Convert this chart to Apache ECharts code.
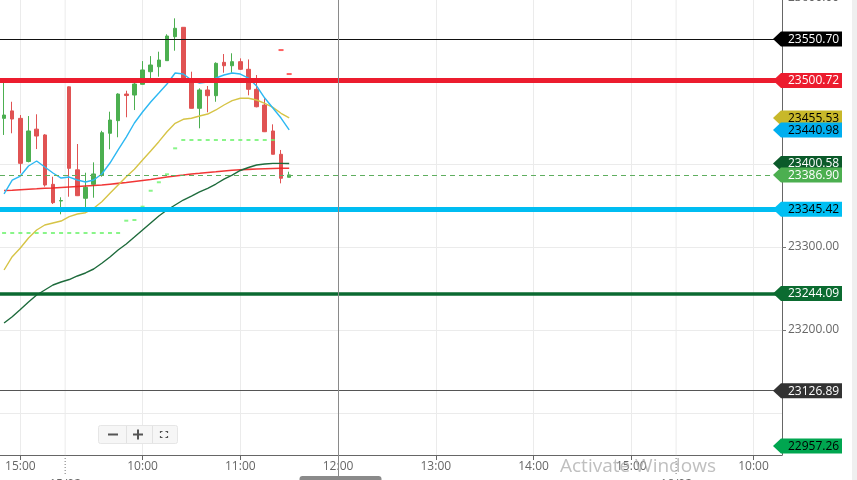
<!DOCTYPE html>
<html><head><meta charset="utf-8">
<script src="https://cdn.jsdelivr.net/npm/echarts@6/dist/echarts.min.js"></script>
<style>html,body{margin:0;padding:0;background:#fff;overflow:hidden}#c{width:857px;height:480px}</style>
</head><body><div id="c"></div>
<script>
// ---------- DATA ----------
const dayDates = ['14/02', '15/02', '16/02'];
const sessionRanges = [['14:50', '15:25'], ['09:15', '15:25'], ['09:15', '10:15']];

const xTickCats = ['14/02 15:00', '15/02 10:00', '15/02 11:00', '15/02 12:00', '15/02 13:00', '15/02 14:00', '15/02 15:00', '16/02 10:00'];
const xTickLabels = ['15:00', '10:00', '11:00', '12:00', '13:00', '14:00', '15:00', '10:00'];
const dayLabels = ['15/02', '16/02'];
const crossCat = '15/02 12:00';

const yTickValues = [23100, 23200, 23300, 23400, 23500];
const yTopTick = 23600;
const yMin = 23049.4, yMax = 23597.6;

const opens  = [23455, 23464, 23455, 23403, 23442, 23435, 23375.5, 23355.4, 23493, 23393, 23358.7, 23375.5, 23386.7, 23437, 23452.2, 23484.3, 23483.1, 23496, 23511.2, 23517.2, 23524.5, 23553.4, 23564.7, 23497.6, 23467.1, 23489.2, 23482.3, 23522.5, 23518.4, 23523.3, 23514.1, 23490, 23471, 23439.8, 23411.7, 23384];
const closes = [23459, 23454.2, 23400.8, 23439.8, 23433.7, 23374.7, 23353.4, 23356, 23394.8, 23361.8, 23371.9, 23388, 23437.7, 23453, 23484.3, 23482.5, 23496.4, 23513.3, 23519.3, 23525.3, 23554.2, 23563.5, 23500, 23467.1, 23489.2, 23482.3, 23521.3, 23518.4, 23523.3, 23514.1, 23490, 23469, 23438.9, 23411.7, 23382.8, 23386.9];
const highs  = [23498, 23475, 23459, 23457.8, 23459.9, 23436, 23384.7, 23359.9, 23493.5, 23424.1, 23389.5, 23402, 23440, 23463, 23485.2, 23488.3, 23497.6, 23524, 23530, 23535.3, 23556.3, 23575.5, 23565, 23511.2, 23491.2, 23494, 23522.5, 23532.5, 23533.4, 23527.3, 23526, 23507.2, 23479.2, 23447.8, 23416.9, 23390.7];
const lows   = [23435, 23437, 23388.8, 23402, 23418, 23372.7, 23351.8, 23339.4, 23360.6, 23361.4, 23346.6, 23359.4, 23384.7, 23417.7, 23432.2, 23456.3, 23465, 23495.8, 23503.6, 23505.2, 23524.5, 23536.5, 23499, 23467, 23443, 23462.3, 23475, 23510, 23510, 23513.3, 23482.8, 23468.3, 23438.5, 23411.7, 23376.7, 23384];

const maBlue   = [23363.9, 23380.7, 23385.5, 23397.6, 23403.6, 23396.4, 23389.2, 23383.1, 23384.3, 23380.7, 23378.3, 23380.7, 23388, 23401.2, 23416.9, 23432.5, 23449.4, 23462.7, 23474.7, 23485.5, 23496.4, 23509.6, 23508.4, 23501.2, 23497.6, 23498.8, 23503.6, 23507.2, 23509.6, 23508.4, 23503.6, 23494, 23479.5, 23467.5, 23455.4, 23441];
const maYellow = [23272.3, 23288.3, 23298.8, 23310.8, 23320.5, 23326.5, 23328.9, 23331.3, 23336.5, 23339.8, 23341.3, 23346.6, 23354.6, 23364.7, 23374.7, 23384.7, 23393.6, 23404.8, 23415.7, 23426.9, 23438.9, 23449, 23453.9, 23455.1, 23457.8, 23460.2, 23465.1, 23471.1, 23476.3, 23479.2, 23479.2, 23477.1, 23473.1, 23468.3, 23461.1, 23455.5];
const maGreen  = [23208.4, 23216, 23224.7, 23233.7, 23242.2, 23248.2, 23254.2, 23257.8, 23260.8, 23265.1, 23268.7, 23273.5, 23280.4, 23288, 23296.4, 23303.6, 23312, 23320.5, 23328.9, 23337.3, 23344.6, 23350.6, 23356.6, 23361.4, 23366.3, 23370.7, 23375.9, 23381.9, 23386.7, 23392.2, 23395.8, 23398.8, 23400, 23400.8, 23400.8, 23400.6];
const maRed    = [23368.1, 23368.4, 23369, 23369.6, 23370.1, 23370.7, 23371.1, 23371.7, 23372.3, 23372.9, 23373.5, 23374.1, 23374.7, 23375.7, 23376.7, 23377.7, 23378.9, 23380.1, 23381.3, 23382.8, 23384.3, 23385.5, 23386.7, 23388, 23388.8, 23389.8, 23390.6, 23391.6, 23392.4, 23393, 23393.5, 23394, 23394.3, 23394.6, 23394.8, 23394.8];
const trendUp   = [23316.9, 23316.9, 23316.9, 23316.9, 23316.9, 23316.9, 23316.9, 23316.9, 23316.9, 23316.9, 23316.9, 23316.9, 23316.9, 23316.9, 23316.9, 23331.7, 23332.5, 23348.6, 23367.8, 23378, 23387.6, 23418.9, 23428.9, 23428.9, 23428.9, 23428.9, 23428.9, 23428.9, 23428.9, 23428.9, 23428.9, 23428.9, 23428.9, 23428.9, null, null];
const trendDown = [null, null, null, null, null, null, null, null, null, null, null, null, null, null, null, null, null, null, null, null, null, null, null, null, null, null, null, null, null, null, null, null, null, null, 23537.3, 23508.4];

const lineLevels = [23550.70, 23500.72, 23386.90, 23345.42, 23244.09, 23126.89];
const tagValues  = [23550.70, 23500.72, 23455.53, 23440.98, 23400.58, 23386.90, 23345.42, 23244.09, 23126.89, 22957.26];

// ---------- STYLES ----------
const lineLevelStyles = [
  {color: '#111', width: 1, type: 'solid'},
  {color: '#ec1c2e', width: 5, type: 'solid'},
  {color: '#5fae5f', width: 1, type: [5, 4]},
  {color: '#00bdf2', width: 5, type: 'solid'},
  {color: '#0b6a31', width: 3.5, type: 'solid'},
  {color: '#555', width: 1, type: 'solid'}
];
const tagBg = ['#000000', '#ec1c2e', '#c8b82a', '#00aeef', '#0b5a2a', '#4caf50', '#00bff3', '#0b6b30', '#333333', '#00a650'];
const tagFg = ['#fff', '#fff', '#000', '#000', '#fff', '#fff', '#000', '#fff', '#fff', '#000'];
const FONT = '"Open Sans", "Noto Sans", sans-serif';

// ---------- BUILD ----------
function toMin(s) { const p = s.split(':'); return +p[0] * 60 + +p[1]; }
function fmt(m) { const h = Math.floor(m / 60), mm = m % 60; return (h < 10 ? '0' : '') + h + ':' + (mm < 10 ? '0' : '') + mm; }
const categories = [];
dayDates.forEach((d, k) => {
  for (let m = toMin(sessionRanges[k][0]); m <= toMin(sessionRanges[k][1]); m += 5) categories.push(d + ' ' + fmt(m).replace(/^0/, ''));
});
const fixCat = c => c; // names like '15/02 9:15'
const tickIdx = new Set(xTickCats.map(c => categories.indexOf(c)));
const tickLabelByIdx = {};
xTickCats.forEach((c, i) => { tickLabelByIdx[categories.indexOf(c)] = xTickLabels[i]; });

const candleData = opens.map((o, i) => [o, closes[i], lows[i], highs[i]]);

const gridMarks = [];
tickIdx.forEach(i => { if (categories[i] !== crossCat) gridMarks.push({xAxis: i}); });
yTickValues.forEach(v => gridMarks.push({yAxis: v}));

const levelMarks = lineLevels.map((v, i) => ({yAxis: v, lineStyle: lineLevelStyles[i]}));

const chart = echarts.init(document.getElementById('c'));
chart.setOption({
  animation: false,
  backgroundColor: '#ffffff',
  grid: {left: -2, right: 75, top: 0, bottom: 25},
  xAxis: {
    type: 'category', data: categories, boundaryGap: true,
    axisLine: {lineStyle: {color: '#666'}},
    axisTick: {show: true, alignWithLabel: true, length: 5, interval: i => tickIdx.has(i), lineStyle: {color: '#666'}},
    axisLabel: {interval: i => tickIdx.has(i), formatter: (v, i) => tickLabelByIdx[i] || '', color: '#666', fontSize: 12, fontFamily: FONT, margin: 6},
    splitLine: {show: false}
  },
  yAxis: {
    type: 'value', position: 'right', min: yMin, max: yMax, minInterval: 100, maxInterval: 100,
    axisLine: {show: true, lineStyle: {color: '#666'}},
    axisTick: {show: true, length: 4, lineStyle: {color: '#777'}, customValues: yTickValues},
    axisLabel: {formatter: v => v.toFixed(2), color: '#666', fontSize: 12, fontFamily: FONT, margin: 6, showMinLabel: false, showMaxLabel: false, customValues: yTickValues},
    splitLine: {show: false}
  },
  series: [
    {type: 'line', data: [], silent: true,
      markLine: {silent: true, z: 1, symbol: 'none', label: {show: false}, lineStyle: {color: '#ebebeb', width: 1, type: 'solid'}, data: gridMarks}},
    {type: 'candlestick', data: candleData, barWidth: 4, z: 2,
      itemStyle: {color: '#4caf50', color0: '#e05353', borderColor: '#4caf50', borderColor0: '#e05353', borderWidth: 1}},
    {type: 'line', data: maRed, showSymbol: false, z: 3, lineStyle: {color: '#f02020', width: 1.6, opacity: 0.9}},
    {type: 'line', data: maGreen, showSymbol: false, z: 3, lineStyle: {color: '#1e6b3c', width: 1.4}},
    {type: 'line', data: maYellow, showSymbol: false, z: 3, lineStyle: {color: '#d6c446', width: 1.4}},
    {type: 'line', data: maBlue, showSymbol: false, z: 3, lineStyle: {color: '#2db8f2', width: 1.4}},
    {type: 'scatter', data: trendUp, symbol: 'rect', symbolSize: [4, 2], z: 3, itemStyle: {color: '#6cf36c'}},
    {type: 'scatter', data: trendDown, symbol: 'rect', symbolSize: [5, 2], z: 3, itemStyle: {color: '#ff3a3a'}},
    {type: 'line', data: [], silent: true,
      markLine: {silent: true, z: 5, symbol: 'none', label: {show: false}, data: levelMarks}}
  ]
});

// ---------- OVERLAYS ----------
const px = i => chart.convertToPixel({xAxisIndex: 0}, i);
const py = v => chart.convertToPixel({yAxisIndex: 0}, v);
const g = [];
g.push({type: 'rect', shape: {x: 852, y: 0, width: 5, height: 480}, style: {fill: '#efefef'}, z: 50});

// day separators
const seps = [];
for (let i = 1; i < categories.length; i++) if (categories[i].slice(0, 5) !== categories[i - 1].slice(0, 5)) seps.push((px(i - 1) + px(i)) / 2);
seps.forEach((x, k) => {
  g.push({type: 'line', shape: {x1: x, y1: 0, x2: x, y2: 455}, style: {stroke: '#ebebeb', lineWidth: 1}, z: 1});
  g.push({type: 'line', shape: {x1: x, y1: 455, x2: x, y2: 476}, style: {stroke: '#777', lineWidth: 1, lineDash: [1, 2]}, z: 20});
  g.push({type: 'text', style: {text: dayLabels[k], x: x, y: 485, align: 'center', verticalAlign: 'middle', fill: '#666', font: '12px ' + FONT}, z: 20});
});

// crosshair
const cx = Math.round(px(categories.indexOf(crossCat))) + 0.5;
g.push({type: 'line', shape: {x1: cx, y1: 0, x2: cx, y2: 480}, style: {stroke: '#8a8a8a', lineWidth: 1}, z: 30});
g.push({type: 'rect', shape: {x: cx - 39, y: 476, width: 82, height: 14, r: 3}, style: {fill: '#8a8a8a'}, z: 31});

// top cut tick label
g.push({type: 'text', style: {text: yTopTick.toFixed(2), x: 788, y: py(yTopTick), verticalAlign: 'middle', fill: '#666', font: '12px ' + FONT}, z: 20});

// watermark
g.push({type: 'text', style: {text: 'Activate Windows', x: 560, y: 467, verticalAlign: 'middle', fill: 'rgba(170,170,170,0.75)', font: '19px ' + FONT}, z: 10});

// zoom control
g.push({type: 'rect', shape: {x: 98.5, y: 425.5, width: 79, height: 18, r: 2}, style: {fill: '#f6f6f6', stroke: '#e6e6e6'}, z: 40});
g.push({type: 'line', shape: {x1: 126.5, y1: 426, x2: 126.5, y2: 443}, style: {stroke: '#e2e2e2'}, z: 41});
g.push({type: 'line', shape: {x1: 152.5, y1: 426, x2: 152.5, y2: 443}, style: {stroke: '#e2e2e2'}, z: 41});
g.push({type: 'line', shape: {x1: 108, y1: 434.5, x2: 118, y2: 434.5}, style: {stroke: '#555', lineWidth: 2}, z: 42});
g.push({type: 'line', shape: {x1: 133, y1: 434.5, x2: 143, y2: 434.5}, style: {stroke: '#555', lineWidth: 2}, z: 42});
g.push({type: 'line', shape: {x1: 138, y1: 429.5, x2: 138, y2: 439.5}, style: {stroke: '#555', lineWidth: 2}, z: 42});
[[160.5, 433, 160.5, 431.5, 162.5, 431.5], [165.5, 431.5, 167.5, 431.5, 167.5, 433], [160.5, 436, 160.5, 437.5, 162.5, 437.5], [165.5, 437.5, 167.5, 437.5, 167.5, 436]].forEach(p => {
  g.push({type: 'polyline', shape: {points: [[p[0], p[1]], [p[2], p[3]], [p[4], p[5]]]}, style: {stroke: '#555', lineWidth: 1.2, fill: null}, z: 42});
});

// price tags
tagValues.forEach((v, i) => {
  let y = py(v);
  y = Math.max(8, Math.min(446, y));
  g.push({type: 'polygon', shape: {points: [[773, y], [781, y - 7.5], [842, y - 7.5], [842, y + 7.5], [781, y + 7.5]]}, style: {fill: tagBg[i]}, z: 60 + i});
  g.push({type: 'text', style: {text: v.toFixed(2), x: 788, y: y + 0.5, verticalAlign: 'middle', fill: tagFg[i], font: '12px ' + FONT}, z: 60 + i});
});

chart.setOption({graphic: {elements: g}});
</script></body></html>
